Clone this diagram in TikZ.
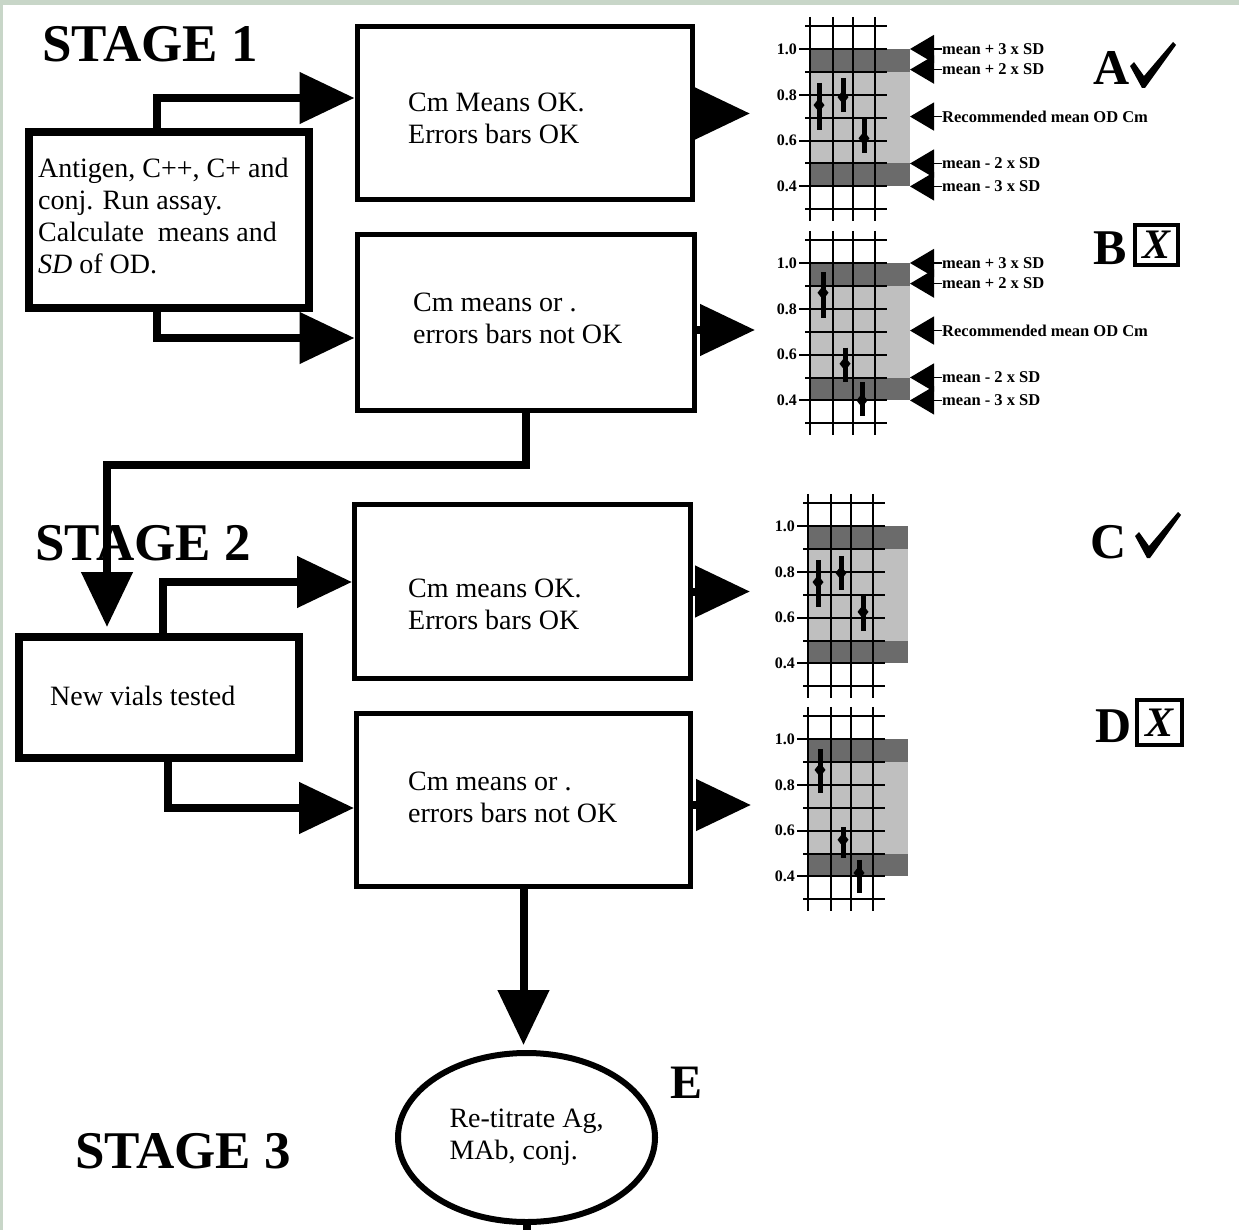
\documentclass[tikz,border=0pt]{standalone}
\usepackage{fontspec}
\setmainfont{Liberation Serif}
\usetikzlibrary{arrows.meta,shapes.geometric}
\definecolor{framecol}{HTML}{C8D6C8}
\definecolor{darkband}{gray}{0.42}
\definecolor{lightband}{gray}{0.75}

\tikzset{
  flowbox/.style={draw, line width=5pt, inner sep=0pt},
  thickbox/.style={draw, line width=8pt, inner sep=0pt},
  boxtxt/.style={font=\fontsize{28}{32}\selectfont, align=left, anchor=west, inner sep=0pt},
  stagetxt/.style={font=\fontsize{53}{53}\selectfont\bfseries, anchor=base west, inner sep=0pt},
  lettertxt/.style={font=\fontsize{50}{50}\selectfont\bfseries, anchor=base west, inner sep=0pt},
  conn/.style={line width=8pt, -{Triangle[length=55pt,width=50pt]}},
  plainconn/.style={line width=8pt},
  gridln/.style={line width=2pt},
  errbar/.style={line width=5pt},
  ticklbl/.style={font=\fontsize{16}{16}\selectfont\bfseries, anchor=east, inner sep=0pt},
  sdtext/.style={font=\fontsize{16.5}{16.5}\selectfont\bfseries, anchor=west, inner sep=0pt},
  sdarrow/.style={line width=1.5pt, -{Triangle[length=24pt,width=28pt]}},
  xbox/.style={draw, line width=3.5pt, inner sep=0pt, font=\fontsize{42}{42}\selectfont\bfseries\itshape}
}

% chart: #1 x of first vertical line, #2 y of value 1.0, #3 error bars xoff/dlo/dhi/dmean, #4 extra
\newcommand{\odchart}[4]{%
\begin{scope}[shift={(#1,#2)}, x=1pt, y=-229pt]
  \fill[lightband] (0,0.1) rectangle (100,0.5);
  \fill[darkband] (0,0) rectangle (100,0.1);
  \fill[darkband] (0,0.5) rectangle (100,0.6);
  \foreach \d in {-0.1,0.1,0.3,0.5,0.7} \draw[gridln] (-5,\d) -- (77,\d);
  \foreach \d/\t in {0/1.0,0.2/0.8,0.4/0.6,0.6/0.4} {
    \draw[gridln] (-11,\d) -- (77,\d);
    \node[ticklbl] at (-13,\d) {\t};
  }
  \foreach \xx in {0,23,43,65} \draw[gridln] (\xx,-0.14) -- (\xx,0.75);
  \foreach \xx/\lo/\hi/\m in {#3} {
    \draw[errbar] (\xx,\lo) -- (\xx,\hi);
    \fill (\xx,\m) +(-5.5pt,0pt) -- +(0pt,7pt) -- +(5.5pt,0pt) -- +(0pt,-7pt) -- cycle;
  }
  #4
\end{scope}}

\newcommand{\sdlabels}[1]{%
  \node[sdtext] (#1m3p) at (132,0) {mean + 3 x SD};
  \node[sdtext] (#1m2p) at (132,0.09) {mean + 2 x SD};
  \node[sdtext] (#1rec) at (132,0.295) {Recommended mean OD Cm};
  \node[sdtext] (#1m2m) at (132,0.5) {mean - 2 x SD};
  \node[sdtext] (#1m3m) at (132,0.6) {mean - 3 x SD};
  \foreach \n/\d in {m3p/0,m2p/0.09,rec/0.295,m2m/0.5,m3m/0.6}
    \draw[sdarrow] (#1\n.west) -- (100,\d);
}

\newcommand{\checkmk}[2]{%
  \fill[shift={(#1,#2)}] (0,24) -- (4,20) -- (14,34) -- (43,0) -- (46,3) -- (15,46) -- (12,46) -- cycle;
}

\begin{document}
\begin{tikzpicture}[x=1pt,y=-1pt]
\useasboundingbox (0,0) rectangle (1239,1230);
\fill[white] (0,0) rectangle (1239,1230);
\fill[framecol] (0,0) rectangle (1239,5);
\fill[framecol] (0,0) rectangle (3,1230);

% stage labels
\node[stagetxt] (st1) at (42,62) {STAGE 1};
\node[stagetxt] (st2) at (35,560) {STAGE 2};
\node[stagetxt] (st3) at (75,1168) {STAGE 3};

% boxes
\node[flowbox, minimum width=335pt, minimum height=173pt] (box1) at (524.5,113.5) {};
\node[flowbox, minimum width=337pt, minimum height=175pt] (box2) at (525.5,322.5) {};
\node[thickbox, minimum width=280pt, minimum height=176pt] (ant) at (169,220) {};
\node[flowbox, minimum width=336pt, minimum height=174pt] (box3) at (522.5,591.5) {};
\node[flowbox, minimum width=334pt, minimum height=173pt] (box4) at (523.5,800) {};
\node[thickbox, minimum width=280pt, minimum height=121pt] (vials) at (159,697.5) {};
\node[ellipse, draw, line width=6pt, minimum width=257pt, minimum height=169pt, inner sep=0pt,
      font=\fontsize{28}{32}\selectfont, align=left] (ell) at (526.5,1137.5) {Re-titrate Ag,\\MAb, conj.};

% box texts
\node[boxtxt] (t1) at (408,118.5) {Cm Means OK.\\Errors bars OK};
\node[boxtxt] (t2) at (413,318.5) {Cm means or .\\errors bars not OK};
\node[boxtxt] (tant) at (38,216) {Antigen, C++, C+ and\\conj. Run assay.\\Calculate\ \ means and\\\textit{SD} of OD.};
\node[boxtxt] (t3) at (408,604) {Cm means OK.\\Errors bars OK};
\node[boxtxt] (t4) at (408,797) {Cm means or .\\errors bars not OK};
\node[boxtxt] (tvials) at (50,696) {New vials tested};

% connectors
\draw[conn] ([xshift=132pt]ant.north west) |- ([yshift=15.5pt]box1.west);
\draw[conn] ([xshift=132pt]ant.south west) |- ([yshift=-15.5pt]box2.west);
\draw[conn] (box2.south) -- ++(0,52) -| ([xshift=92pt,yshift=6pt]vials.north west);
\draw[conn] ([xshift=148pt]vials.north west) |- ([yshift=9.5pt]box3.west);
\draw[conn] ([xshift=153pt]vials.south west) |- ([yshift=-8pt]box4.west);
\draw[conn, shorten >=5pt] (box4.south) -- (box4.south |- ell.north);
\coordinate (bottomend) at (526.5,1232);
\draw[plainconn] (ell.south) -- (bottomend);

% chart end points
\coordinate (chA) at (750,113.5);
\coordinate (chB) at (755,330);
\coordinate (chC) at (750,591.5);
\coordinate (chD) at (751,805);
\draw[conn] (box1.east) -- (chA);
\draw[conn] ([yshift=-7.5pt]box2.east) -- (chB);
\draw[conn] (box3.east) -- (chC);
\draw[conn] ([yshift=-5pt]box4.east) -- (chD);

% charts
\odchart{810}{49}{9/0.148/0.354/0.245, 33/0.127/0.275/0.21, 54/0.30/0.454/0.39}{\sdlabels{a}}
\odchart{810}{263}{13/0.04/0.24/0.13, 35/0.37/0.52/0.44, 52/0.52/0.67/0.6}{\sdlabels{b}}
\odchart{808}{526}{10/0.15/0.354/0.245, 33/0.13/0.28/0.205, 55/0.30/0.46/0.375}{}
\odchart{808}{739}{12/0.044/0.236/0.135, 35/0.384/0.52/0.44, 51/0.528/0.672/0.585}{}

% letters
\node[lettertxt] (la) at (1093,85) {A};
\checkmk{1130}{42}
\node[lettertxt] (lb) at (1093,265) {B};
\node[xbox, minimum width=43pt, minimum height=40pt] (xb) at (1156.5,245) {X};
\node[lettertxt] (lc) at (1090,558) {C};
\checkmk{1135}{512}
\node[lettertxt] (ld) at (1095,742) {D};
\node[xbox, minimum width=45pt, minimum height=45pt] (xd) at (1159.5,722.5) {X};
\node[lettertxt, font=\fontsize{48}{48}\selectfont\bfseries] (le) at (670,1098) {E};
\end{tikzpicture}
\end{document}
